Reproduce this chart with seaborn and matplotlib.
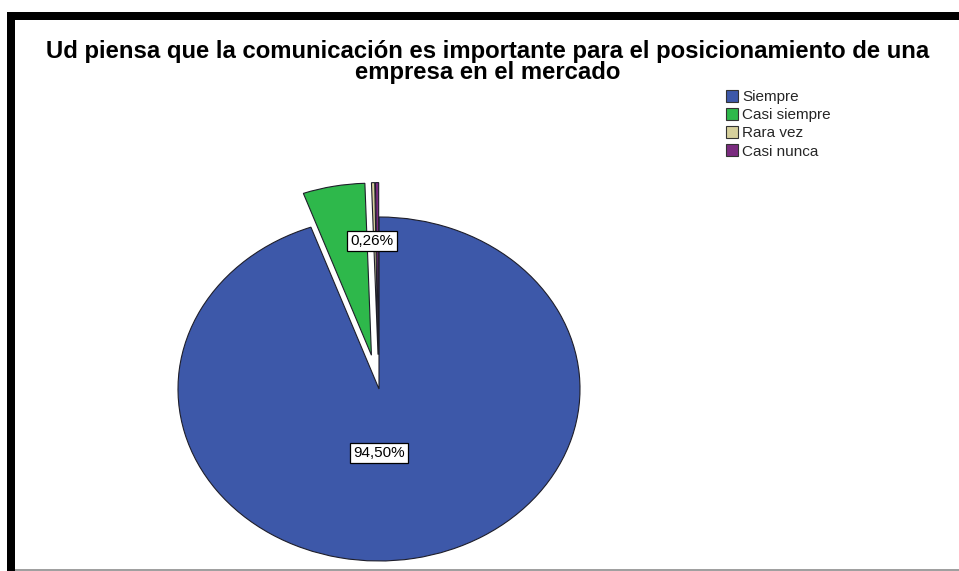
import matplotlib
matplotlib.use('Agg')
import matplotlib.pyplot as plt
import seaborn as sns
import numpy as np
from matplotlib.patches import Rectangle, Patch

categories = ['Siempre', 'Casi siempre', 'Rara vez', 'Casi nunca']
values = [94.50, 4.98, 0.26, 0.26]
colors = ['#3D58A9', '#2EB84B', '#D6D09C', '#7A2B7F']
explode = [0, 0.2, 0.2, 0.2]
shown_labels = ['94,50%', None, '0,26%', None]
title = ('Ud piensa que la comunicación es importante para el posicionamiento de una\n'
         'empresa en el mercado')

sns.set_theme(style='white')
plt.rcParams['font.family'] = ['Liberation Sans', 'DejaVu Sans']

W, H = 959, 571
fig = plt.figure(figsize=(W / 100, H / 100), dpi=100)
fig.patch.set_facecolor('white')

# pie axes geometry (pixels): centre and radii of the ellipse
cx, cy, rx, ry = 379, 389, 201, 172
x0, x1 = -1.5, 1.5
y0, y1 = -1.3, 1.4
left = (cx + x0 * rx) / W
width = (x1 - x0) * rx / W
bottom = (H - (cy - y0 * ry)) / H
height = (y1 - y0) * ry / H
ax = fig.add_axes([left, bottom, width, height])

wedges, _ = ax.pie(values, colors=colors, explode=explode, startangle=90,
                   counterclock=False,
                   wedgeprops=dict(edgecolor='#1e1e2a', linewidth=0.8))
ax.set_aspect('auto')
ax.set_xlim(x0, x1)
ax.set_ylim(y0, y1)
ax.axis('off')

# label offsets relative to each wedge's centre, in radius units
label_off = [(0.0, -0.37), None, (-0.03, 0.66), None]
for w, lab, off in zip(wedges, shown_labels, label_off):
    if lab is None:
        continue
    ax.text(w.center[0] + off[0], w.center[1] + off[1], lab, ha='center',
            va='center', fontsize=11, color='black',
            bbox=dict(boxstyle='square,pad=0.2', fc='white', ec='black', lw=0.9),
            zorder=5)

# title
fig.text(488 / W, 1 - 62 / H, title, ha='center', va='center', fontsize=17.2,
         fontweight='bold', color='black', linespacing=0.92)

# legend
handles = [Patch(facecolor=c, edgecolor='#333333', linewidth=0.8, label=l)
           for c, l in zip(colors, categories)]
fig.legend(handles=handles, loc='upper left', bbox_to_anchor=(726 / W, 1 - 90 / H),
           frameon=False, fontsize=11, handlelength=0.8, handleheight=0.8,
           handletextpad=0.25, labelspacing=0.26, borderpad=0, borderaxespad=0)

# frame
fig.add_artist(Rectangle((7 / W, 1 - 20 / H), (W - 7) / W, 8 / H,
                         transform=fig.transFigure, color='black', lw=0))
fig.add_artist(Rectangle((7 / W, 0), 8 / W, (H - 12) / H,
                         transform=fig.transFigure, color='black', lw=0))
fig.add_artist(Rectangle((15 / W, 0), (W - 15) / W, 2 / H,
                         transform=fig.transFigure, color='#a0a0a0', lw=0))

fig.savefig('out.png', dpi=100)
